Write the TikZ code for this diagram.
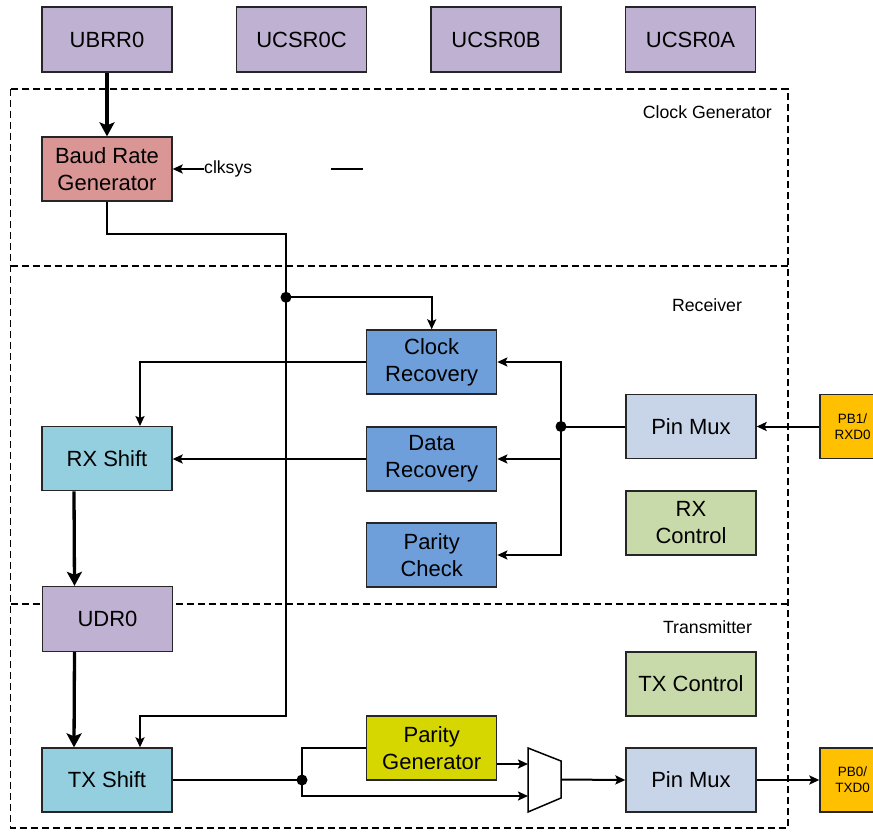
\documentclass[tikz,border=0pt]{standalone}
\usepackage{fontspec}
\setmainfont{Liberation Sans}
\usetikzlibrary{arrows.meta}

\definecolor{regcol}{HTML}{BFB1D1}
\definecolor{baudcol}{HTML}{DA9694}
\definecolor{reccol}{HTML}{6E9FDB}
\definecolor{shiftcol}{HTML}{93CFDF}
\definecolor{muxcol}{HTML}{C8D5E8}
\definecolor{ctrlcol}{HTML}{C9DAAA}
\definecolor{gencol}{HTML}{D6D600}
\definecolor{pincol}{HTML}{FFC000}

\begin{document}
\begin{tikzpicture}[x=1pt,y=-1pt,
	blk/.style={draw=black!85,line width=1.3pt,minimum width=130pt,minimum height=64pt,inner sep=0pt,align=center,font=\fontsize{22}{27}\selectfont},
	pin/.style={blk,fill=pincol,minimum width=65pt,font=\fontsize{13.5}{16}\selectfont},
	zone/.style={dash pattern=on 7pt off 4pt,line width=1.4pt},
	lbl/.style={inner sep=0pt,font=\fontsize{17.7}{20}\selectfont},
	wire/.style={line width=2pt,>={Stealth[length=10pt,width=9pt,inset=2pt]}},
	bus/.style={line width=3.3pt,>={Stealth[length=14pt,width=15pt,inset=3pt]}}]
		\useasboundingbox (0,0) rectangle (873,832);
		\clip (0,0) rectangle (873,832);

		% clock / receiver / transmitter areas
		\draw[zone] (10.7,89) rectangle (788,828);
		\draw[zone] (10.7,266) -- (788,266);
		\draw[zone] (10.7,604) -- (788,604);
		\draw (772,112) node [lbl,anchor=east] {Clock Generator};
		\draw (707,305) node [lbl] {Receiver};
		\draw (707.5,627) node [lbl] {Transmitter};

		% registers
		\draw (107,39.5) node [blk,fill=regcol,minimum height=65pt] (ubrr) {UBRR0};
		\draw (301.5,39.5) node [blk,fill=regcol,minimum height=65pt] (ucsrc) {UCSR0C};
		\draw (496,39.5) node [blk,fill=regcol,minimum height=65pt] (ucsrb) {UCSR0B};
		\draw (690.5,39.5) node [blk,fill=regcol,minimum height=65pt] (ucsra) {UCSR0A};
		\draw (107.5,619) node [blk,fill=regcol,minimum height=65pt] (udr) {UDR0};

		% clock generator
		\draw (107,169) node [blk,fill=baudcol] (baud) {Baud Rate\\Generator};
		\draw (204,169) node [anchor=west,inner sep=0pt,font=\fontsize{17.6}{20}\selectfont] (clk) {clksys};
		\draw[wire] (331,169) -- (362.7,169);

		% receiver
		\draw (431.7,362) node [blk,fill=reccol] (clkrec) {Clock\\Recovery};
		\draw (431.7,459) node [blk,fill=reccol] (datarec) {Data\\Recovery};
		\draw (431.7,555) node [blk,fill=reccol] (parchk) {Parity\\Check};
		\draw (107,458.7) node [blk,fill=shiftcol] (rxshift) {RX Shift};
		\draw (691,426.5) node [blk,fill=muxcol] (pinmuxrx) {Pin Mux};
		\draw (691,523) node [blk,fill=ctrlcol] (rxctrl) {RX\\Control};
		\draw (852.5,426.5) node [pin] (pb1) {PB1/\\RXD0};

		% transmitter
		\draw (691,684) node [blk,fill=ctrlcol] (txctrl) {TX Control};
		\draw (431.7,748) node [blk,fill=gencol] (pargen) {Parity\\Generator};
		\draw (107,780) node [blk,fill=shiftcol] (txshift) {TX Shift};
		\draw (691,780) node [blk,fill=muxcol] (pinmuxtx) {Pin Mux};
		\draw (852.5,780) node [pin] (pb0) {PB0/\\TXD0};
		\draw[line width=1.5pt,fill=white] (528,748) -- (561,761) -- (561,798) -- (528,812) -- cycle;
		\coordinate (muxa) at (528,764);
		\coordinate (muxb) at (528,796);
		\coordinate (muxo) at (561,779.5);

		\coordinate (clktap) at (286,297.3);
		\coordinate (rxtap) at (561,426.5);
		\coordinate (txtap) at (302,780);

		% clock lines
		\draw[bus,->] (ubrr.south) -- (baud.north);
		\draw[wire,->] (clk.west) -- (baud.east);
		\draw[wire] (baud.south) |- (286,234) -- (clktap);
		\draw[wire,->] (clktap) -| (clkrec.north);
		\draw[wire,->] (clktap) -- (286,715.7) -| ([xshift=33pt]txshift.north);

		% receive path
		\draw[wire,->] (pb1.west) -- (pinmuxrx.east);
		\draw[wire] (pinmuxrx.west) -- (rxtap);
		\draw[wire,->] (rxtap) |- (clkrec.east);
		\draw[wire,->] (rxtap) |- (datarec.east);
		\draw[wire,->] (rxtap) |- (parchk.east);
		\draw[wire,->] (clkrec.west) -| ([xshift=33pt]rxshift.north);
		\draw[wire,->] (datarec.west) -- (rxshift.east |- datarec.west);
		\draw[bus,->] ([xshift=-33pt]rxshift.south) -- ([xshift=-33pt]udr.north);

		% transmit path
		\draw[bus,->] ([xshift=-33pt]udr.south) -- ([xshift=-33pt]txshift.north);
		\draw[wire] (txshift.east) -- (txtap);
		\draw[wire] (txtap) |- (pargen.west);
		\draw[wire,->] (txtap) |- (muxb);
		\draw[wire,->] (pargen.east |- muxa) -- (muxa);
		\draw[wire,->] (muxo) -- (pinmuxtx.west);
		\draw[wire,->] (pinmuxtx.east) -- (pb0.west);

		\fill (clktap) circle (5.5pt) (rxtap) circle (5.5pt) (txtap) circle (5.5pt);
	\end{tikzpicture}
\end{document}
